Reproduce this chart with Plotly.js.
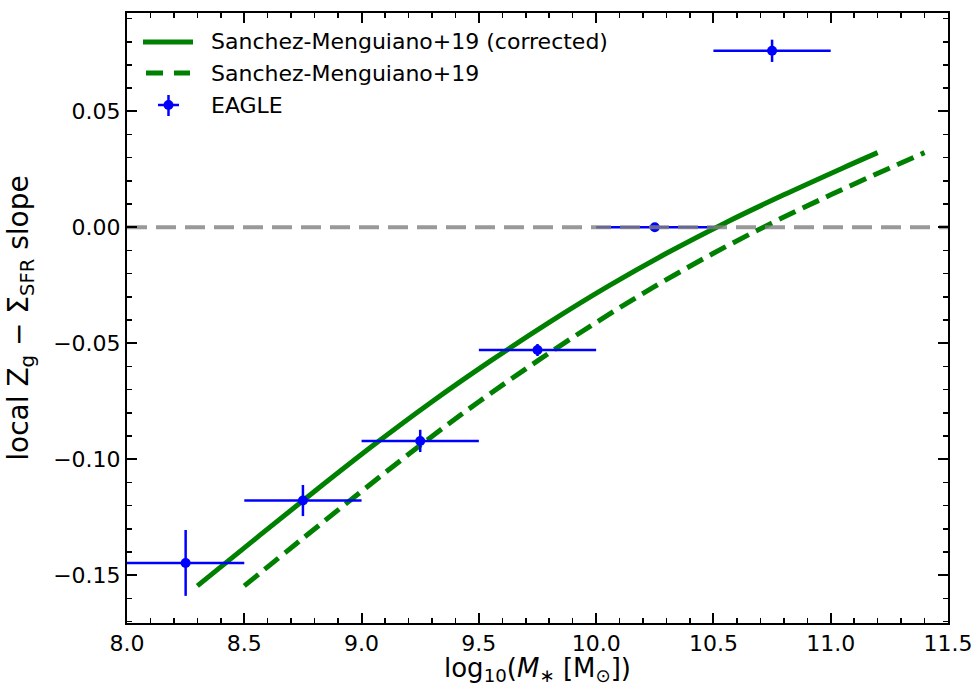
<!DOCTYPE html>
<html>
<head>
<meta charset="utf-8">
<script src="https://cdn.plot.ly/plotly-3.0.1.min.js"></script>
<style>
  html, body { margin: 0; padding: 0; background: #fff; }
  #chart { width: 973px; height: 686px; }
</style>
</head>
<body>
<div id="chart"></div>
<script>
// Sanchez-Menguiano+19 relation (corrected)
const smCorrX = [8.30, 8.55, 8.80, 9.05, 9.30, 9.55, 9.80, 10.05, 10.30, 10.55, 10.80, 11.05, 11.20];
const smCorrY = [-0.1546, -0.1341, -0.1138, -0.0940, -0.0752, -0.0576, -0.0410, -0.0255, -0.0112, 0.0019, 0.0140, 0.0255, 0.0322];

// Sanchez-Menguiano+19 relation (original)
const smX = [8.50, 8.75, 9.00, 9.25, 9.50, 9.75, 10.00, 10.25, 10.50, 10.75, 11.00, 11.25, 11.40];
const smY = [-0.1546, -0.1341, -0.1138, -0.0940, -0.0752, -0.0576, -0.0410, -0.0255, -0.0112, 0.0019, 0.0140, 0.0255, 0.0322];

// EAGLE binned slopes
const eagleX = [8.25, 8.75, 9.25, 9.75, 10.25, 10.75];
const eagleY = [-0.1447, -0.1178, -0.0921, -0.0529, 0.0000, 0.0761];
const eagleXErr = [0.25, 0.25, 0.25, 0.25, 0.25, 0.25];
const eagleYErr = [0.0142, 0.0067, 0.0048, 0.0026, 0.0010, 0.0048];

// zero reference line
const zeroX = [8.0, 11.5];
const zeroY = [0, 0];

// legend entries
const legendLabels = ['Sanchez-Menguiano+19 (corrected)', 'Sanchez-Menguiano+19', 'EAGLE'];

const green = 'rgb(0,128,0)';
const blue = 'rgb(0,0,255)';
const font = 'DejaVu Sans, sans-serif';

const W = 973, H = 686;
const M = { l: 127, r: 25, t: 13, b: 63 };
// pixel position -> paper fraction, for the hand-placed legend
const px = v => (v - M.l) / (W - M.l - M.r);
const py = v => (H - M.b - v) / (H - M.t - M.b);

const traces = [
  {
    x: smCorrX, y: smCorrY, type: 'scatter', mode: 'lines',
    name: legendLabels[0], showlegend: false,
    line: { color: green, width: 5, shape: 'spline', smoothing: 1 }
  },
  {
    x: smX, y: smY, type: 'scatter', mode: 'lines',
    name: legendLabels[1], showlegend: false,
    line: { color: green, width: 5, dash: '18px,8px', shape: 'spline', smoothing: 1 }
  },
  {
    x: eagleX, y: eagleY, type: 'scatter', mode: 'markers',
    name: legendLabels[2], showlegend: false,
    marker: { color: blue, size: 10 },
    error_x: { type: 'data', array: eagleXErr, color: blue, thickness: 2.5, width: 0 },
    error_y: { type: 'data', array: eagleYErr, color: blue, thickness: 2.5, width: 0 }
  },
  {
    x: zeroX, y: zeroY, type: 'scatter', mode: 'lines',
    showlegend: false, hoverinfo: 'skip',
    line: { color: 'rgba(128,128,128,0.8)', width: 4, dash: '20px,9px' }
  }
];

// legend: line samples, EAGLE symbol and labels
const rowY = [42, 73, 105];
const shapes = [
  { type: 'line', xref: 'paper', yref: 'paper', x0: px(143), x1: px(193), y0: py(rowY[0]), y1: py(rowY[0]),
    line: { color: green, width: 5 } },
  { type: 'line', xref: 'paper', yref: 'paper', x0: px(146), x1: px(190), y0: py(rowY[1]), y1: py(rowY[1]),
    line: { color: green, width: 5, dash: '17px,11px' } },
  { type: 'line', xref: 'paper', yref: 'paper', x0: px(158), x1: px(179), y0: py(rowY[2]), y1: py(rowY[2]),
    line: { color: blue, width: 2.5 } },
  { type: 'line', xref: 'paper', yref: 'paper', x0: px(168.5), x1: px(168.5), y0: py(95), y1: py(116),
    line: { color: blue, width: 2.5 } },
  { type: 'circle', xref: 'paper', yref: 'paper', x0: px(163.5), x1: px(173.5), y0: py(rowY[2] - 5), y1: py(rowY[2] + 5),
    fillcolor: blue, line: { color: blue, width: 0 } }
];
const annotations = legendLabels.map((t, i) => ({
  text: t, xref: 'paper', yref: 'paper', x: px(209), y: py(rowY[i]),
  xanchor: 'left', yanchor: 'middle', showarrow: false,
  font: { family: font, size: 22, color: 'black' }
}));

const axisCommon = {
  showgrid: false, zeroline: false,
  showline: true, linecolor: 'black', linewidth: 2,
  mirror: 'ticks', ticks: 'inside', ticklen: 10, tickwidth: 2, tickcolor: 'black',
  tickfont: { family: font, size: 22, color: 'black' }
};

const layout = {
  width: W, height: H,
  margin: M,
  paper_bgcolor: 'white', plot_bgcolor: 'white',
  font: { family: font, color: 'black' },
  showlegend: false,
  shapes: shapes,
  annotations: annotations,
  xaxis: Object.assign({}, axisCommon, {
    range: [8.0, 11.5], tick0: 8.0, dtick: 0.5, tickformat: '.1f',
    ticklabelstandoff: 0,
    minor: { ticks: 'inside', ticklen: 5, tickwidth: 1.5, tickcolor: 'black', dtick: 0.1, tick0: 8.0 },
    title: { text: 'log<sub>10</sub>(<i>M</i><sub>∗</sub> [M<sub>⊙</sub>])', font: { family: font, size: 26, color: 'black' }, standoff: 4 }
  }),
  yaxis: Object.assign({}, axisCommon, {
    range: [-0.1706, 0.0924], tick0: 0, dtick: 0.05, tickformat: '.2f',
    ticklabelstandoff: 0,
    minor: { ticks: 'inside', ticklen: 5, tickwidth: 1.5, tickcolor: 'black', dtick: 0.01, tick0: 0 },
    title: { text: 'local Z<sub>g</sub> − Σ<sub>SFR</sub> slope', font: { family: font, size: 28, color: 'black' }, standoff: 16 }
  })
};

Plotly.newPlot('chart', traces, layout, { displayModeBar: false, staticPlot: true });
</script>
</body>
</html>
